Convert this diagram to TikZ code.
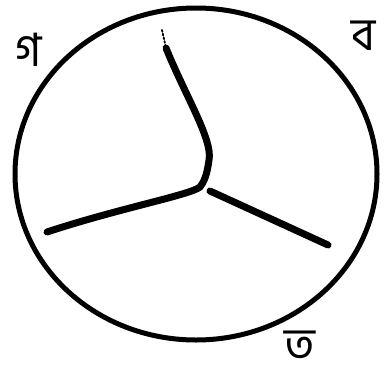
\documentclass[tikz,border=0pt]{standalone}
\usepackage{fontspec}
\usetikzlibrary{shapes.geometric}
\newfontfamily\bn[Script=Bengali]{Hind Siliguri}
\tikzset{
  rim/.style={line width=5pt, black},
  arm/.style={line width=7pt, black, line cap=round, line join=round},
  lbl/.style={font=\bn\fontsize{46}{46}\selectfont, inner sep=0pt, anchor=base, text depth=0pt}
}
\begin{document}
\begin{tikzpicture}[x=1pt,y=-1pt]
\useasboundingbox (0,0) rectangle (385,383);
\node[draw, rim, ellipse, minimum width=362pt, minimum height=332pt, inner sep=0pt] (c) at (196,174) {};
\coordinate (top) at (166,48);
\coordinate (tip) at (162,30);
\coordinate (j) at (200,187);
\coordinate (left) at (47,232);
\coordinate (rs) at (210,191);
\coordinate (right) at (328,245);
\draw[arm] (top) .. controls (185,95) and (213,140) .. (209,160)
  .. controls (207,175) and (204,182) .. (j)
  .. controls (190,195) and (120,208) .. (left);
\draw[arm] (rs) -- (right);
\draw[line width=1.8pt, dotted, line cap=round] (tip) -- (top);
\node[lbl] (g) at (29,66) {গ};
\node[lbl] (b) at (364,50) {ব};
\node[lbl] (t) at (300,360) {ত};
\end{tikzpicture}
\end{document}
